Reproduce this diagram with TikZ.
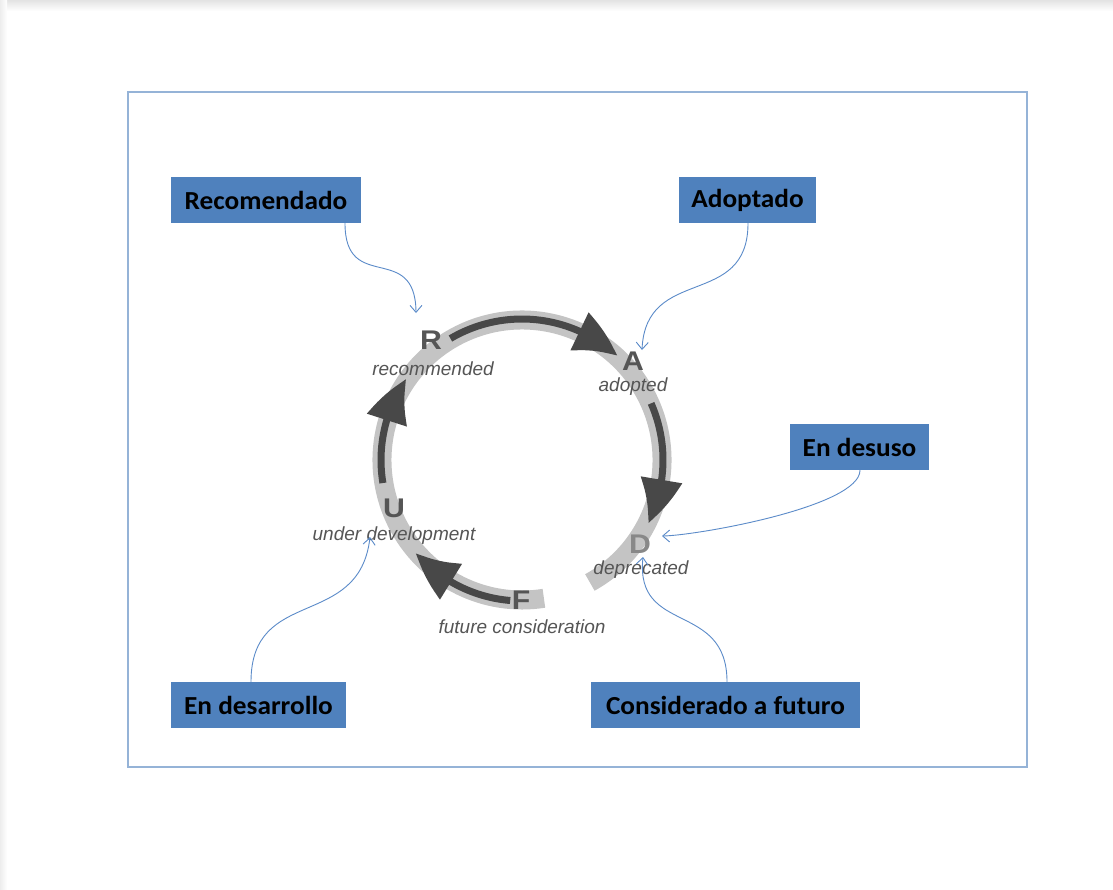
\documentclass[tikz,border=0pt]{standalone}
\usepackage{fontspec}
\usepackage{graphicx}
\setmainfont{Carlito}
\newfontfamily\arialfont{Liberation Sans}
\usetikzlibrary{arrows.meta,bending}
\definecolor{boxblue}{HTML}{4F81BD}
\definecolor{framecol}{HTML}{95B3D7}
\definecolor{ringgray}{HTML}{C4C4C4}
\definecolor{darkarrow}{HTML}{484848}
\definecolor{lettergray}{HTML}{555555}
\definecolor{dgray}{HTML}{888888}
\definecolor{linkblue}{HTML}{5B8BC9}
\begin{document}
\begin{tikzpicture}[x=1pt,y=-1pt,
  labelbox/.style={fill=boxblue, inner sep=0pt, minimum height=46pt,
    font=\bfseries\fontsize{26}{28}\selectfont, text=black},
  cycarrow/.style={draw=darkarrow, line width=7pt,
    -{Triangle[length=46pt,width=40pt,bend]}},
  letter/.style={font=\arialfont\bfseries\fontsize{27}{29}\selectfont,
    text=lettergray, inner sep=0pt},
  phase/.style={font=\arialfont\itshape\fontsize{19}{21}\selectfont,
    text=lettergray, inner sep=0pt},
  link/.style={draw=linkblue, line width=0.9pt,
    -{Straight Barb[length=7pt,width=12pt]}}]
\useasboundingbox (0,0) rectangle (1113,889);
\fill[white] (0,0) rectangle (1113,889);
\shade[top color=gray!22, bottom color=white] (0,0) rectangle (1113,11);
\shade[left color=gray!14, right color=white] (0,0) rectangle (7,889);
% frame
\draw[framecol, line width=1.3pt] (128,92) rectangle (1027,767);
% cycle
\coordinate (C) at (522,460);
\draw[ringgray, line width=19pt] (C) ++(61:140) arc[start angle=61, end angle=-279, radius=140];
\draw[cycarrow] (C) ++(-120.5:141) arc[start angle=-120.5, end angle=-47.5, radius=141];
\draw[cycarrow] (C) ++(-23.7:141) arc[start angle=-23.7, end angle=26.6, radius=141];
\draw[cycarrow] (C) ++(94.8:141) arc[start angle=94.8, end angle=138.8, radius=141];
\draw[cycarrow] (C) ++(-189.4:141) arc[start angle=-189.4, end angle=-145, radius=141];
% letters and phase names
\node[letter] (lR) at (431,340) {\scalebox{1.12}[1]{R}};
\node[letter] (lA) at (633,361) {\scalebox{1.12}[1]{A}};
\node[letter, text=dgray] (lD) at (640,544) {\scalebox{1.12}[1]{D}};
\node[letter] (lU) at (394,508) {\scalebox{1.12}[1]{U}};
\node[letter] (lF) at (521,600) {\scalebox{1.12}[1]{F}};
\node[phase] (pR) at (433,369) {recommended};
\node[phase] (pA) at (633,387) {adopted};
\node[phase] (pD) at (641,570) {deprecated};
\node[phase] (pU) at (394,536) {under development};
\node[phase] (pF) at (522,627) {future consideration};
% boxes
\node[labelbox, minimum width=190pt] (rec) at (266,200) {\scalebox{1.05}[1]{Recomendado}};
\node[labelbox, minimum width=137pt] (adop) at (747.5,200) {\scalebox{1.05}[1]{Adoptado}};
\node[labelbox, minimum width=139pt] (desuso) at (859.5,447) {\scalebox{1.05}[1]{En desuso}};
\node[labelbox, minimum width=175pt] (desarr) at (258.5,705) {\scalebox{1.05}[1]{En desarrollo}};
\node[labelbox, minimum width=269pt] (cons) at (725.5,705) {\scalebox{1.05}[1]{Considerado a futuro}};
% connector ends
\coordinate (recTip) at (416,313);
\coordinate (adopTip) at (642,350);
\coordinate (desusoTip) at (662,536);
\coordinate (desarrTip) at (370,537);
\coordinate (consTip) at (643,557);
\draw[link] ([xshift=79pt]rec.south) .. controls (345,295) and (416,240) .. (recTip);
\draw[link] ([xshift=0.5pt]adop.south) .. controls (748,310) and (645,264) .. (adopTip);
\draw[link] ([xshift=0.5pt]desuso.south) .. controls (860,507) and (694,536) .. (desusoTip);
\draw[link] ([xshift=-7.5pt]desarr.north) .. controls (251,585) and (360,631) .. (desarrTip);
\draw[link] ([xshift=1.5pt]cons.north) .. controls (727,600) and (634,636) .. (consTip);
\end{tikzpicture}
\end{document}
